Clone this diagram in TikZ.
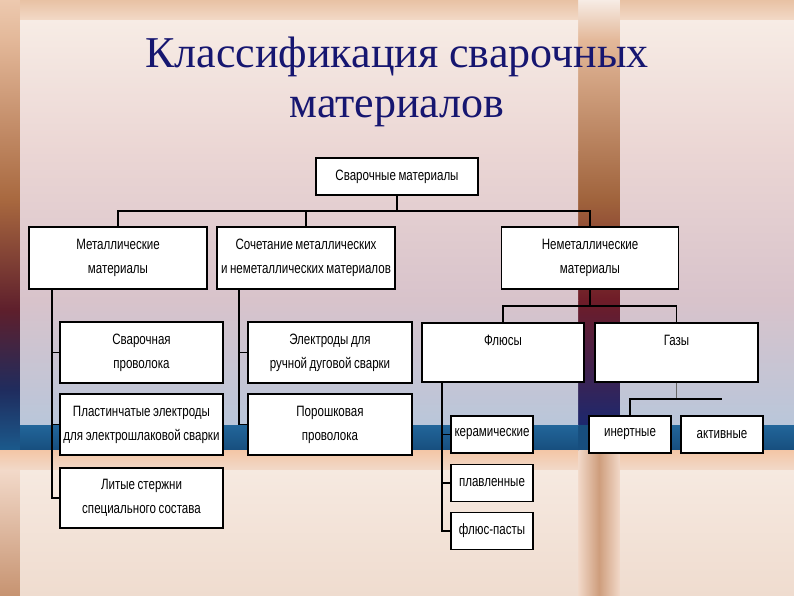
\documentclass[tikz,border=0pt]{standalone}
\usepackage{fontspec}
\setmainfont{Liberation Serif}
\newfontfamily\boxfont[FakeStretch=0.77, WordSpace=0.8]{Liberation Sans}

\definecolor{titleblue}{RGB}{22,22,112}
\definecolor{edgeA}{HTML}{EDC9AF}
\definecolor{edgeB}{HTML}{E3B899}
\definecolor{brownA}{HTML}{A8683F}
\definecolor{maroonA}{HTML}{5E1F2C}
\definecolor{navyA}{HTML}{1F2C5E}
\definecolor{bandblue}{HTML}{1B5A8C}
\definecolor{bandlight}{HTML}{22669A}
\definecolor{banddark}{HTML}{174E7E}
\definecolor{gapA}{HTML}{F3C6A6}
\definecolor{gapB}{HTML}{F2D9C9}
\definecolor{panelA}{HTML}{F7ECE5}
\definecolor{panelB}{HTML}{EBD6D4}
\definecolor{panelC}{HTML}{D8C3CB}
\definecolor{panelD}{HTML}{B9C6DA}
\definecolor{lowA}{HTML}{F6E9E0}
\definecolor{lowB}{HTML}{EFDCCF}

\tikzset{
  box/.style={draw=black, line width=1.4pt, fill=white, inner xsep=1pt, inner ysep=0pt,
    minimum width=#1, align=center, font=\boxfont\fontsize{15}{24}\selectfont},
  tall/.style={minimum height=61pt},
  flat/.style={minimum height=37pt},
  link/.style={line width=1.1pt, black},
  thinlink/.style={line width=0.9pt, black!60},
  titlefont/.style={font=\fontsize{44}{50}\selectfont, text=titleblue, anchor=base}
}

\begin{document}
\begin{tikzpicture}[x=1pt,y=-1pt]
  \useasboundingbox (0,0) rectangle (794,595);
  \fill[edgeA] (0,0) rectangle (794,595);
  \shade[top color=edgeA, bottom color=edgeB] (0,0) rectangle (20,40);
  \shade[top color=edgeB, bottom color=brownA] (0,40) rectangle (20,200);
  \shade[top color=brownA, bottom color=maroonA] (0,200) rectangle (20,310);
  \shade[top color=maroonA, bottom color=navyA] (0,310) rectangle (20,390);
  \shade[top color=navyA, bottom color=bandblue] (0,390) rectangle (20,450);
  \shade[top color=gapA, bottom color=gapB] (0,450) rectangle (20,470);
  \shade[top color=gapB, bottom color=brownA!55!edgeA] (0,470) rectangle (20,595);
  \shade[top color=panelA, bottom color=edgeB] (578,0) rectangle (620,40);
  \shade[top color=edgeB, bottom color=brownA!95!black] (578,40) rectangle (620,200);
  \shade[top color=brownA!95!black, bottom color=maroonA!90!red] (578,200) rectangle (620,300);
  \shade[top color=maroonA!90!red, bottom color=navyA!90!blue] (578,300) rectangle (620,425);
  \fill[banddark] (578,425) rectangle (620,450);
  \shade[left color=gapB, right color=gapB, middle color=brownA!45!edgeA] (578,450) rectangle (620,595);
  \shade[top color=edgeA!90!brown, bottom color=edgeA!70!white] (20,0) rectangle (578,20);
  \shade[top color=edgeA!90!brown, bottom color=edgeA!70!white] (620,0) rectangle (794,20);
  \foreach \xa/\xb in {20/578, 620/794} {
    \shade[top color=panelA, bottom color=panelB] (\xa,20) rectangle (\xb,150);
    \shade[top color=panelB, bottom color=panelC] (\xa,150) rectangle (\xb,300);
    \shade[top color=panelC, bottom color=panelD] (\xa,300) rectangle (\xb,425);
    \shade[top color=bandlight, bottom color=banddark] (\xa,425) rectangle (\xb,450);
    \shade[top color=gapA, bottom color=gapB] (\xa,450) rectangle (\xb,470);
    \shade[top color=lowA, bottom color=lowB] (\xa,470) rectangle (\xb,595);
  }

  \node[titlefont] (title1) at (397,67) {Классификация сварочных};
  \node[titlefont] (title2) at (397,117) {материалов};

  \node[box=162pt, flat] (top) at (397,176.5) {Сварочные материалы};
  \node[box=178pt, minimum height=62pt] (metal) at (118,258) {Металлические\\материалы};
  \node[box=178pt, minimum height=62pt] (combo) at (306,258) {Сочетание металлических\\и неметаллических материалов};
  \node[box=177pt, minimum height=62pt] (nonmetal) at (590,258) {Неметаллические\\материалы};

  \node[box=163pt, tall] (wire) at (141.5,352.5) {Сварочная\\проволока};
  \node[box=163pt, tall] (plate) at (141.5,424.5) {Пластинчатые электроды\\для электрошлаковой сварки};
  \node[box=163pt, minimum height=60pt] (cast) at (141.5,498) {Литые стержни\\специального состава};
  \node[box=164pt, tall] (electrodes) at (330,352.5) {Электроды для\\ручной дуговой сварки};
  \node[box=164pt, tall] (fluxwire) at (330,424.5) {Порошковая\\проволока};

  \node[box=162pt, minimum height=59pt] (flux) at (503,352.5) {Флюсы\\~};
  \node[box=163pt, minimum height=59pt] (gases) at (676.5,352.5) {Газы\\~};
  \node[box=82pt, flat] (ceramic) at (492,434.5) {керамические};
  \node[box=82pt, flat] (fused) at (492,483) {плавленные};
  \node[box=82pt, flat] (paste) at (492,531) {флюс-пасты};
  \node[box=82pt, flat] (inert) at (630,434.5) {инертные};
  \node[box=82pt, flat] (active) at (722,434.5) {активные};

  \coordinate (bus1) at (397,211);
  \coordinate (bus2) at (590,306);
  \coordinate (bus3) at (676.5,399);
  \coordinate (mtrunk) at (52,289);
  \coordinate (ctrunk) at (239,289);
  \coordinate (ftrunk) at (442,382);

  \draw[link] (top.south) -- (bus1);
  \draw[link] (metal.north) |- (bus1) -| (nonmetal.north);
  \draw[link] (combo.north) -- (combo.north |- bus1);
  \draw[link] (mtrunk) |- (cast.west);
  \draw[link] (wire.west) -- (wire.west -| mtrunk);
  \draw[link] (plate.west) -- (plate.west -| mtrunk);
  \draw[link] (ctrunk) |- (fluxwire.west);
  \draw[link] (electrodes.west) -- (electrodes.west -| ctrunk);
  \draw[link] (nonmetal.south) -- (bus2);
  \draw[link] (flux.north) |- (bus2) -| (gases.north);
  \draw[link] (ftrunk) |- (paste.west);
  \draw[link] (ceramic.west) -- (ceramic.west -| ftrunk);
  \draw[link] (fused.west) -- (fused.west -| ftrunk);
  \draw[thinlink] (gases.south) -- (bus3);
  \draw[link] (inert.north) |- (bus3) -- (active.north |- bus3);
\end{tikzpicture}
\end{document}
